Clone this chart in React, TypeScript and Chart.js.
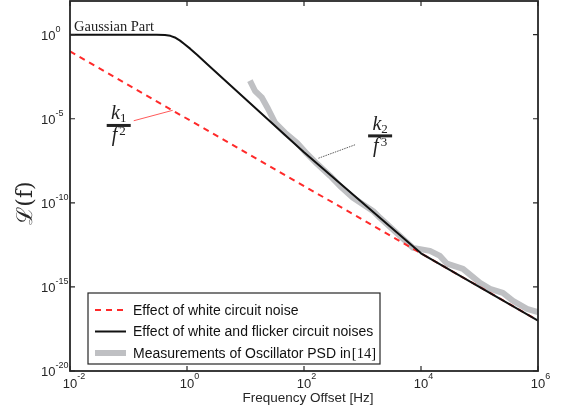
import React, { useEffect, useRef } from "react";
import { Chart, registerables } from "chart.js";

Chart.register(...registerables);

// ---- data ----
const whiteFreq = [1e-2, 1e4, 1e6];
const whiteValues = [1e-1, 1e-13, 1e-17];

const flickerFreq = [0.01, 0.3, 0.42, 0.52, 0.62, 0.76, 0.9, 1.13, 1.5, 2.2, 3.65, 100, 1e4, 1e6];
const flickerValues = [1, 1, 0.95, 0.85, 0.68, 0.44, 0.275, 0.147, 0.061, 0.018, 0.0036, 1e-7, 1e-13, 1e-17];

const measFreq = [
  11.9, 14.5, 19.1, 24.3, 31.9, 47.3, 75.9, 112, 167, 278, 412, 688, 1510, 1990,
  7300, 14250, 21100, 27800, 52200, 102000, 151000, 251000, 374000, 649000, 1000000,
];
const measValues = [
  1.83e-3, 4.6e-4, 1.78e-4, 3.9e-5, 5.8e-6, 1.47e-6, 3.7e-7, 8.3e-8, 2.1e-8, 4.1e-9,
  1.0e-9, 2.0e-10, 3.3e-11, 1.29e-11, 2.1e-13, 1.39e-13, 7.0e-14, 2.4e-14, 1.18e-14,
  1.73e-15, 7.6e-16, 4.4e-16, 1.47e-16, 4.9e-17, 3.2e-17,
];

const seriesLabels = [
  "Effect of white circuit noise",
  "Effect of white and flicker circuit noises",
  "Measurements of Oscillator PSD in",
];
const refSuffix = "[14]";

const xTickValues = [1e-2, 1e0, 1e2, 1e4, 1e6];
const xTickExponents = ["-2", "0", "2", "4", "6"];
const yTickValues = [1e0, 1e-5, 1e-10, 1e-15, 1e-20];
const yTickExponents = ["0", "-5", "-10", "-15", "-20"];

const xTitle = "Frequency Offset [Hz]";
const yTitle = "\u2112(f)";
const gaussianLabel = "Gaussian Part";
// annotation anchors in data coordinates [freq, value]
const gaussianAnchor = [0.0117, 1.73];
const k1Center = [0.068, 10 ** -5.4];
const k1Pointer = [[0.123, 10 ** -5.12], [0.57, 10 ** -4.5]];
const k2Center = [2000, 10 ** -6.02];
const k2Pointer = [[745, 10 ** -6.55], [170, 10 ** -7.37]];

const AXIS = "#262626";
const SERIF = "'Liberation Serif', serif";
const SANS = "'Liberation Sans', Arial, sans-serif";

function drawFraction(ctx: CanvasRenderingContext2D, cx: number, cy: number, sub: string, sup: string) {
  ctx.fillStyle = "#222";
  ctx.textBaseline = "alphabetic";
  ctx.textAlign = "left";
  const big = `italic 20px ${SERIF}`;
  const small = `13px ${SERIF}`;
  // numerator k_sub
  ctx.font = big;
  const kw = ctx.measureText("k").width;
  ctx.font = small;
  const sw = ctx.measureText(sub).width;
  let x0 = cx - (kw + sw) / 2;
  ctx.font = big;
  ctx.fillText("k", x0, cy - 6);
  ctx.font = small;
  ctx.fillText(sub, x0 + kw, cy - 3);
  // bar
  ctx.fillRect(cx - 12, cy - 1.5, 24, 3);
  // denominator f^sup
  ctx.font = big;
  const fw = ctx.measureText("f").width;
  ctx.font = small;
  const pw = ctx.measureText(sup).width;
  x0 = cx - (fw + pw + 2) / 2;
  ctx.font = big;
  ctx.fillText("f", x0, cy + 16);
  ctx.font = small;
  ctx.fillText(sup, x0 + fw + 2, cy + 10);
}

const decorPlugin = {
  id: "decor",
  afterDatasetsDraw(chart: any) {
    const { ctx, chartArea: a, scales } = chart;
    const xs = scales.x;
    const ys = scales.y;
    const px = (f: number) => xs.getPixelForValue(f);
    const py = (v: number) => ys.getPixelForValue(v);
    ctx.save();

    // frame
    ctx.strokeStyle = AXIS;
    ctx.lineWidth = 1.8;
    ctx.strokeRect(a.left, a.top, a.right - a.left, a.bottom - a.top);

    // ticks (inward)
    ctx.lineWidth = 1.2;
    const tl = 5;
    ctx.beginPath();
    xTickValues.forEach((v) => {
      const x = px(v);
      ctx.moveTo(x, a.bottom);
      ctx.lineTo(x, a.bottom - tl);
      ctx.moveTo(x, a.top);
      ctx.lineTo(x, a.top + tl);
    });
    yTickValues.forEach((v) => {
      const y = py(v);
      ctx.moveTo(a.left, y);
      ctx.lineTo(a.left + tl, y);
      ctx.moveTo(a.right, y);
      ctx.lineTo(a.right - tl, y);
    });
    ctx.stroke();

    // tick labels
    ctx.fillStyle = AXIS;
    ctx.textBaseline = "alphabetic";
    ctx.textAlign = "left";
    const baseFont = `13px ${SANS}`;
    const expFont = `9px ${SANS}`;
    xTickValues.forEach((v, i) => {
      const x = px(v);
      ctx.font = baseFont;
      const w = ctx.measureText("10").width;
      ctx.fillText("10", x - w / 2, a.bottom + 17);
      ctx.font = expFont;
      ctx.fillText(xTickExponents[i], x + w / 2, a.bottom + 8);
    });
    yTickValues.forEach((v, i) => {
      const y = py(v);
      ctx.font = baseFont;
      const w = ctx.measureText("10").width;
      const lx = a.left - 29;
      ctx.fillText("10", lx, y + 5);
      ctx.font = expFont;
      ctx.fillText(yTickExponents[i], lx + w, y - 3);
    });

    // x title
    ctx.font = `13.5px ${SANS}`;
    ctx.textAlign = "center";
    ctx.fillText(xTitle, (a.left + a.right) / 2 + 4, a.bottom + 31);

    // y title
    ctx.save();
    ctx.translate(26, 203);
    ctx.rotate(-Math.PI / 2);
    ctx.font = "22px 'DejaVu Serif', serif";
    ctx.textAlign = "center";
    ctx.textBaseline = "middle";
    ctx.fillText(yTitle, 0, 0);
    ctx.restore();

    // Gaussian label
    ctx.font = `14.5px ${SERIF}`;
    ctx.textAlign = "left";
    ctx.textBaseline = "alphabetic";
    ctx.fillStyle = "#222";
    ctx.fillText(gaussianLabel, px(gaussianAnchor[0]), py(gaussianAnchor[1]));

    // k1 / f^2 annotation
    ctx.strokeStyle = "#ff3030";
    ctx.lineWidth = 0.8;
    ctx.beginPath();
    ctx.moveTo(px(k1Pointer[0][0]), py(k1Pointer[0][1]));
    ctx.lineTo(px(k1Pointer[1][0]), py(k1Pointer[1][1]));
    ctx.stroke();
    drawFraction(ctx, px(k1Center[0]), py(k1Center[1]), "1", "2");

    // k2 / f^3 annotation
    ctx.strokeStyle = "#333";
    ctx.lineWidth = 0.8;
    ctx.setLineDash([1.5, 1]);
    ctx.beginPath();
    ctx.moveTo(px(k2Pointer[0][0]), py(k2Pointer[0][1]));
    ctx.lineTo(px(k2Pointer[1][0]), py(k2Pointer[1][1]));
    ctx.stroke();
    ctx.setLineDash([]);
    drawFraction(ctx, px(k2Center[0]), py(k2Center[1]), "2", "3");

    // legend
    const bx = a.left + 18;
    const by = a.bottom - 78;
    const bw = 292;
    const bh = 71;
    ctx.fillStyle = "#fff";
    ctx.fillRect(bx, by, bw, bh);
    ctx.strokeStyle = AXIS;
    ctx.lineWidth = 1.2;
    ctx.strokeRect(bx, by, bw, bh);
    const ds = chart.data.datasets;
    ds.forEach((d: any, i: number) => {
      const y = by + 17 + i * 21.5;
      ctx.save();
      ctx.strokeStyle = d.borderColor;
      ctx.lineWidth = d.borderWidth;
      ctx.setLineDash(d.borderDash || []);
      ctx.beginPath();
      ctx.moveTo(bx + 7, y);
      ctx.lineTo(bx + 38, y);
      ctx.stroke();
      ctx.restore();
      ctx.fillStyle = "#111";
      ctx.font = `14px ${SANS}`;
      ctx.textAlign = "left";
      ctx.textBaseline = "middle";
      ctx.fillText(d.label, bx + 45, y + 1);
      if (i === 2) {
        const w = ctx.measureText(d.label).width;
        ctx.font = `14.5px ${SERIF}`;
        ctx.fillText(refSuffix, bx + 45 + w + 1, y + 1);
      }
    });

    ctx.restore();
  },
};

export default function App() {
  const ref = useRef<HTMLCanvasElement>(null);
  useEffect(() => {
    document.body.style.margin = "0";
    const canvas = ref.current;
    if (!canvas) return;
    const chart = new Chart(canvas, {
      type: "line",
      data: {
        datasets: [
          {
            label: seriesLabels[0],
            data: whiteFreq.map((f, i) => ({ x: f, y: whiteValues[i] })),
            borderColor: "#ff2a2a",
            borderWidth: 2,
            borderDash: [6, 5],
            pointRadius: 0,
            order: 1,
            clip: 0,
          },
          {
            label: seriesLabels[1],
            data: flickerFreq.map((f, i) => ({ x: f, y: flickerValues[i] })),
            borderColor: "#111111",
            borderWidth: 2,
            borderJoinStyle: "round",
            pointRadius: 0,
            tension: 0,
            order: 0,
            clip: 0,
          },
          {
            label: seriesLabels[2],
            data: measFreq.map((f, i) => ({ x: f, y: measValues[i] })),
            borderColor: "#bfc0c3",
            borderWidth: 6,
            borderJoinStyle: "round",
            pointRadius: 0,
            tension: 0,
            order: 2,
            clip: 0,
          },
        ] as any,
      },
      options: {
        animation: false,
        responsive: false,
        devicePixelRatio: 1,
        layout: { padding: { left: 70, right: 25, top: 1, bottom: 45 } },
        plugins: { legend: { display: false }, tooltip: { enabled: false } },
        scales: {
          x: { type: "logarithmic", min: 1e-2, max: 1e6, display: false },
          y: { type: "logarithmic", min: 1e-20, max: 1e2, display: false },
        },
      },
      plugins: [decorPlugin],
    });
    return () => chart.destroy();
  }, []);
  return (
    <div style={{ width: 563, height: 416 }}>
      <canvas ref={ref} width={563} height={416} />
    </div>
  );
}
